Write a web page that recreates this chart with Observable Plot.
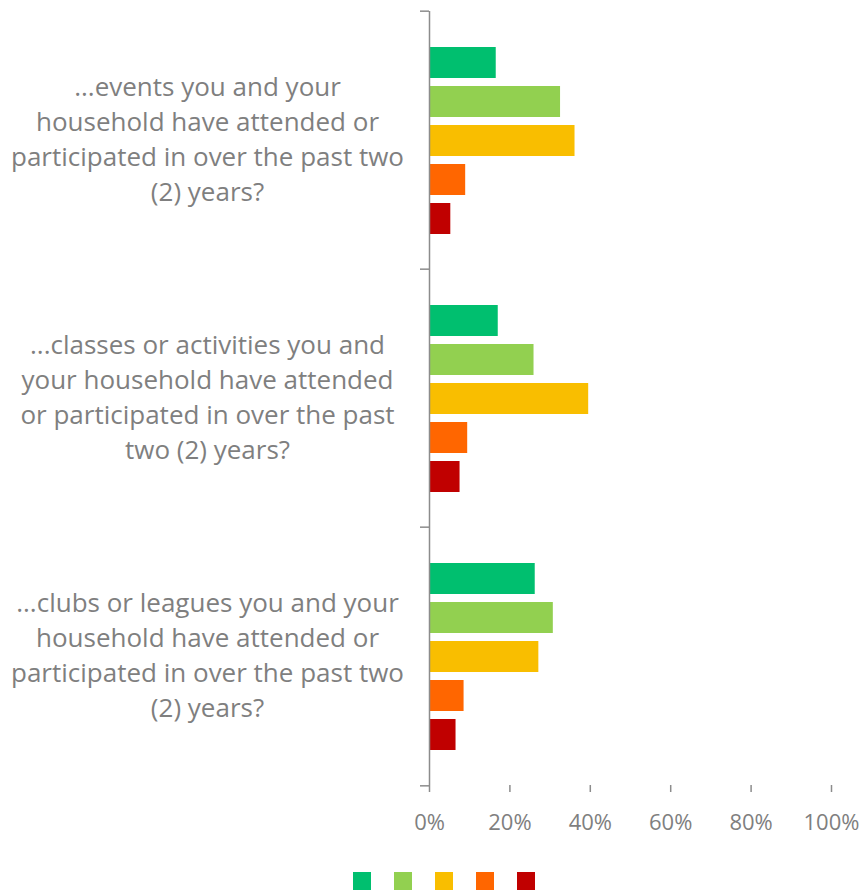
<!DOCTYPE html>
<html>
<head>
<meta charset="utf-8">
<script src="https://cdn.jsdelivr.net/npm/d3@7"></script>
<script src="https://cdn.jsdelivr.net/npm/@observablehq/plot@0.6"></script>
<style>
  body { margin: 0; background: #fff; font-family: "Open Sans", sans-serif; }
  #chart svg { display: block; }
  .legend { display: flex; gap: 23px; padding-left: 353px; margin-top: 22px; }
  .legend span { display: inline-block; width: 18px; height: 18px; }
</style>
</head>
<body>
<div id="chart"></div>
<script>
// Categories (questions), top to bottom
const categories = ["events", "classes", "clubs"];
const categoryLabels = [
  "...events you and your\nhousehold have attended or\nparticipated in over the past two\n(2) years?",
  "...classes or activities you and\nyour household have attended\nor participated in over the past\ntwo (2) years?",
  "...clubs or leagues you and your\nhousehold have attended or\nparticipated in over the past two\n(2) years?"
];
// Series (response levels), top to bottom within each group
const series = ["s1", "s2", "s3", "s4", "s5"];
const seriesColors = ["#00BF6F", "#92D050", "#F9BE00", "#FF6600", "#C00000"];
// Values (share of respondents) per series, in category order
const valuesS1 = [0.166, 0.171, 0.263];
const valuesS2 = [0.326, 0.260, 0.308];
const valuesS3 = [0.362, 0.396, 0.272];
const valuesS4 = [0.090, 0.095, 0.086];
const valuesS5 = [0.053, 0.076, 0.066];
const xTicks = [0, 0.2, 0.4, 0.6, 0.8, 1];

const seriesValues = [valuesS1, valuesS2, valuesS3, valuesS4, valuesS5];
const data = [];
categories.forEach((c, i) => series.forEach((s, j) => data.push({category: c, series: s, value: seriesValues[j][i]})));
const labelOf = new Map(categories.map((c, i) => [c, categoryLabels[i]]));

const W = 862, H = 850, mT = 10, mB = 64, mL = 429, mR = 31;
const facetH = (H - mT - mB) / categories.length;
const grey = "#7f7f7f", axisGrey = "#8c8c8c";

const chart = Plot.plot({
  width: W, height: H,
  marginTop: mT, marginBottom: mB, marginLeft: mL, marginRight: mR,
  style: {fontFamily: "Open Sans, sans-serif", color: grey, background: "#fff"},
  x: {domain: [0, 1], axis: null},
  y: {domain: series, paddingInner: 0.21, paddingOuter: 0.862, axis: null},
  fy: {domain: categories, padding: 0, axis: null},
  color: {domain: series, range: seriesColors},
  marks: [
    Plot.barX(data, {x: "value", y: "series", fy: "category", fill: "series"}),
    Plot.ruleX([0], {stroke: axisGrey, strokeWidth: 1.5}),
    Plot.axisX({ticks: xTicks, tickFormat: d3.format(".0%"), tickSize: 7, tickPadding: 22, label: null,
      fontSize: 22, stroke: axisGrey, strokeWidth: 1.5, fill: grey, line: true}),
    Plot.axisFy({anchor: "left", tickSize: 9, text: null, label: null, dy: -facetH / 2, stroke: axisGrey, strokeWidth: 1.5}),
    Plot.axisFy({anchor: "left", ticks: [categories[categories.length - 1]], tickSize: 9, text: null, label: null,
      dy: facetH / 2, stroke: axisGrey, strokeWidth: 1.5}),
    Plot.text(categories, {fy: d => d, text: d => labelOf.get(d), frameAnchor: "left", textAnchor: "middle",
      dx: -222, dy: -3, fontSize: 26, lineHeight: 1.35, fill: grey})
  ]
});
document.getElementById("chart").appendChild(chart);

const legend = document.createElement("div");
legend.className = "legend";
seriesColors.forEach(c => {
  const s = document.createElement("span");
  s.style.background = c;
  legend.appendChild(s);
});
document.body.appendChild(legend);
</script>
</body>
</html>
